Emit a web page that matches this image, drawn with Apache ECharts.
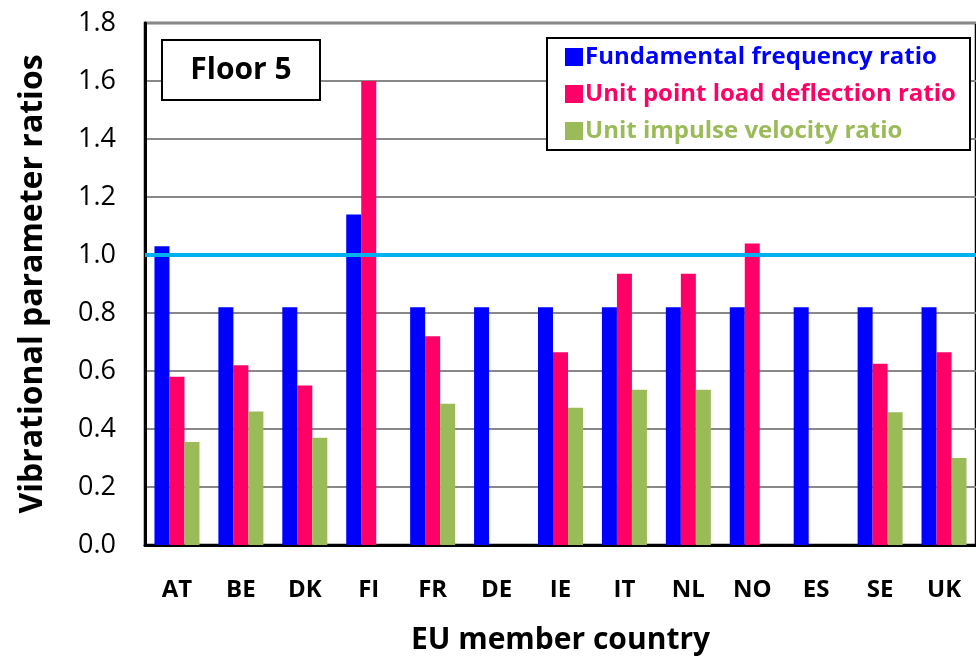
<!DOCTYPE html>
<html>
<head>
<meta charset="utf-8">
<script src="https://cdn.jsdelivr.net/npm/echarts@6/dist/echarts.min.js"></script>
<style>
html,body{margin:0;padding:0;background:#fff;}
#chart{width:976px;height:660px;}
</style>
</head>
<body>
<div id="chart"></div>
<script>
const countries = ['AT','BE','DK','FI','FR','DE','IE','IT','NL','NO','ES','SE','UK'];
const freqRatio = [1.03,0.82,0.82,1.14,0.82,0.82,0.82,0.82,0.82,0.82,0.82,0.82,0.82];
const deflRatio = [0.58,0.62,0.55,1.60,0.72,null,0.665,0.935,0.935,1.04,null,0.625,0.665];
const velRatio  = [0.355,0.46,0.37,null,0.487,null,0.473,0.535,0.535,null,null,0.458,0.30];
const yTicks = ['0.0','0.2','0.4','0.6','0.8','1.0','1.2','1.4','1.6','1.8'];
const referenceLevel = 1.0;
const seriesNames = ['Fundamental frequency ratio','Unit point load deflection ratio','Unit impulse velocity ratio'];
const colors = ['#0000ff','#ff0066','#9bbb59'];

const chart = echarts.init(document.getElementById('chart'));
const font = 'Open Sans';
chart.setOption({
  animation:false,
  backgroundColor:'#fff',
  grid:{left:145,right:-10,top:23,bottom:115,show:true,borderColor:'#000',borderWidth:2.5,backgroundColor:'transparent'},
  graphic:[
    {type:'rect',z:3,shape:{x:162,y:40,width:158,height:60},style:{fill:'#fff',stroke:'#000',lineWidth:2}},
    {type:'text',z:4,style:{x:241,y:70,text:'Floor 5',fill:'#000',font:'bold 30px "Open Sans"',textAlign:'center',textVerticalAlign:'middle'}},
    {type:'rect',z:3,shape:{x:547,y:38,width:423,height:112},style:{fill:'#fff',stroke:'#000',lineWidth:2}}
  ],
  legend:{
    orient:'vertical',left:560,top:40,z:5,
    itemWidth:18,itemHeight:18,itemGap:13,
    icon:'rect',
    data:seriesNames.map((n,i)=>({name:n,textStyle:{color:colors[i]}})),
    textStyle:{fontFamily:font,fontWeight:'bold',fontSize:24,padding:[0,0,0,-3]}
  },
  xAxis:{
    type:'category',data:countries,
    name:'EU member country',nameLocation:'middle',nameGap:80,
    nameTextStyle:{fontFamily:font,fontWeight:'bold',fontSize:30,color:'#000'},
    axisLine:{lineStyle:{color:'#000',width:3}},
    axisTick:{inside:true,length:8,lineStyle:{color:'#888',width:2}},
    axisLabel:{fontFamily:font,fontWeight:'bold',fontSize:24,color:'#000',margin:33},
    splitLine:{show:false}
  },
  yAxis:{
    type:'value',min:0,max:1.8,interval:0.2,
    name:'Vibrational parameter ratios',nameLocation:'middle',nameGap:96,
    nameTextStyle:{fontFamily:font,fontWeight:'bold',fontSize:32,color:'#000'},
    axisLine:{show:true,lineStyle:{color:'#000',width:3}},
    axisTick:{show:false},
    axisLabel:{fontFamily:font,fontSize:27,color:'#000',margin:29,formatter:(v)=>yTicks[Math.round(v/0.2)]},
    splitLine:{lineStyle:{color:'#888',width:2}}
  },
  series:[
    {name:seriesNames[0],type:'bar',data:freqRatio,barWidth:15,barGap:'0%',itemStyle:{color:colors[0]},
     markLine:{silent:true,symbol:'none',label:{show:false},lineStyle:{color:'#00b0f0',width:4,type:'solid'},data:[{yAxis:referenceLevel}],z:10}},
    {name:seriesNames[1],type:'bar',data:deflRatio,barWidth:15,barGap:'0%',itemStyle:{color:colors[1]}},
    {name:seriesNames[2],type:'bar',data:velRatio,barWidth:15,barGap:'0%',itemStyle:{color:colors[2]}}
  ]
});
</script>
</body>
</html>
